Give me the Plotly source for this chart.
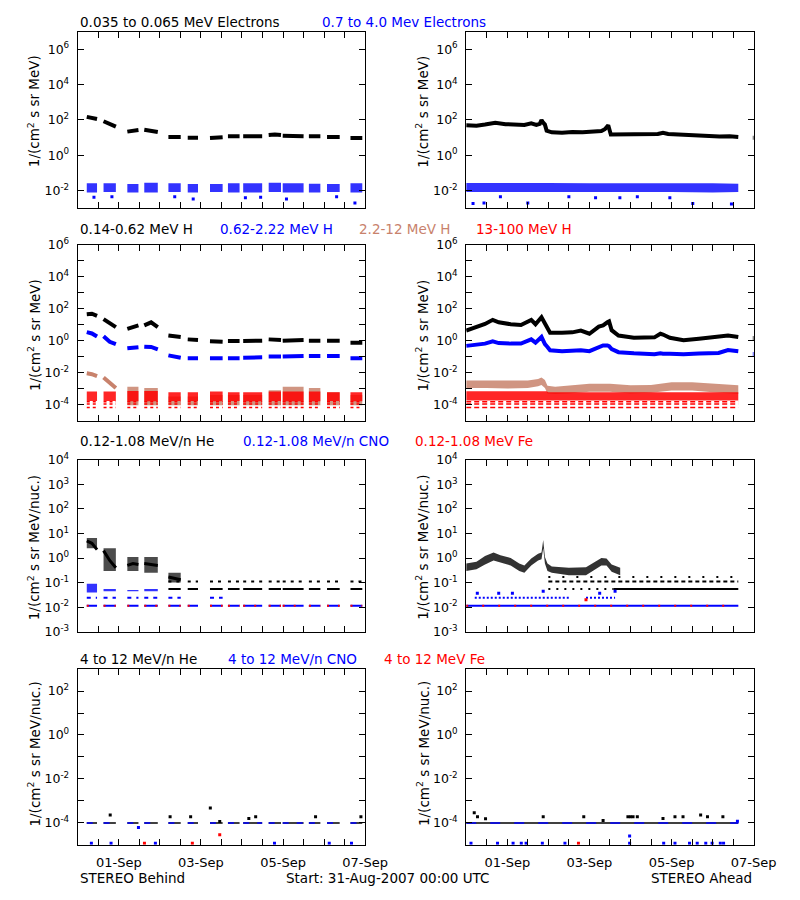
import plotly.graph_objects as go
from datetime import datetime, timedelta

T0 = datetime(2007, 8, 31)

BLACK = "#000000"
BLUE = "#0000ff"
BROWN = "rgb(200,130,108)"
RED = "#ff0000"

# ---------------- time axis ----------------
X_TICK_HOURS = [0, 12, 24, 36, 48, 60, 72, 84, 96, 108, 120, 132, 144, 156, 168]
X_TICK_TEXT = ["", "", "01-Sep", "", "", "", "03-Sep", "", "", "", "05-Sep", "", "", "", "07-Sep"]

# ---------------- STEREO Behind: data blocks (hours since 31-Aug 00:00) ----------------
BLOCK_START = [5.3, 15.1, 29.0, 38.9, 53.0, 64.3, 77.3, 87.8, 96.7, 111.6, 119.8, 135.1, 145.7, 159.4]
BLOCK_MID = [8.3, 18.7, 32.3, 42.9, 56.6, 67.3, 81.0, 91.2, 102.3, 115.2, 125.9, 138.5, 149.4, 162.9]
BLOCK_END = [11.3, 22.3, 35.5, 46.8, 60.2, 70.3, 84.7, 94.6, 107.8, 118.8, 132.0, 141.8, 153.1, 166.3]

# Row 1, Behind: electrons
B_E_LOW = [[150, 140, 115], [85, 60, 42], [22, 25, 27], [28, 25, 21], [11, 11, 11], [10, 10, 10],
           [9.5, 10, 10.5], [12, 12, 12], [12, 12.5, 12], [14, 15, 14], [13, 13, 12], [12, 12, 12],
           [11, 11, 11], [9.5, 9.5, 9.5]]
B_E_HIGH_HI = [0.026, 0.026, 0.024, 0.028, 0.026, 0.024, 0.024, 0.026, 0.026, 0.028, 0.026, 0.025, 0.024, 0.026]
B_E_HIGH_LO = [0.008, 0.0085, 0.008, 0.008, 0.0085, 0.008, 0.0085, 0.008, 0.008, 0.0085, 0.008, 0.008, 0.0085, 0.008]
B_E_HIGH_OUT_T = [9.5, 56.7, 67.5, 106.9, 122.0, 151.3, 162.0, 20.0, 98.0]
B_E_HIGH_OUT_V = [0.0043, 0.0045, 0.0034, 0.0043, 0.0034, 0.0045, 0.002, 0.0045, 0.004]

# Row 1, Ahead: electrons
A_E_T = [0, 6, 11, 17, 23, 29, 34, 38, 41, 43, 44, 45, 46, 47, 50, 56, 62, 68, 74, 79,
         81, 83, 84.5, 88, 96, 104, 112, 115, 118, 124, 130, 136, 142, 148, 154, 159, None, 167.5, 168]
A_E_LOW = [50, 48, 55, 70, 58, 55, 52, 65, 52, 60, 100, 70, 55, 25, 20, 19, 21, 20, 22, 24,
           30, 50, 15, 15, 17, 16, 16, 19, 16, 15, 14, 13, 11.5, 11.5, 12, 11, None, 10, 10]
A_E_BAND_T = [0, 24, 48, 72, 96, 120, 144, 159]
A_E_HIGH_HI = [0.027, 0.028, 0.027, 0.026, 0.027, 0.026, 0.026, 0.025]
A_E_HIGH_LO = [0.0085, 0.0085, 0.0085, 0.008, 0.0085, 0.0085, 0.008, 0.0085]
A_E_HIGH_OUT_T = [4.0, 10.4, 36.0, 75.6, 89.8, 119.0, 132.4, 155.0, 60.0, 100.0, 20.0]
A_E_HIGH_OUT_V = [0.0019, 0.002, 0.002, 0.004, 0.004, 0.004, 0.0019, 0.0018, 0.0045, 0.0045, 0.0045]

# Row 2, Behind: protons
B_H1 = [[45, 48, 35], [22, 13, 7], [5.5, 7, 9], [9, 14, 7], [2.1, 1.9, 1.7], [1.2, 1.2, 1.1],
        [0.9, 0.9, 0.85], [0.95, 0.95, 0.95], [0.95, 0.95, 1.0], [1.2, 1.15, 1.1], [1.0, 1.05, 1.1],
        [1.0, 1.0, 1.0], [1.0, 1.0, 1.0], [0.75, 0.72, 0.75]]
B_H2 = [[3.4, 2.8, 1.8], [1.9, 0.85, 0.6], [0.33, 0.35, 0.38], [0.42, 0.4, 0.28], [0.12, 0.1, 0.085],
        [0.08, 0.08, 0.08], [0.08, 0.08, 0.08], [0.08, 0.08, 0.08], [0.085, 0.085, 0.09], [0.1, 0.1, 0.1],
        [0.1, 0.1, 0.11], [0.11, 0.11, 0.11], [0.11, 0.11, 0.11], [0.08, 0.08, 0.08]]
B_H3_LINE = [[0.009, 0.008, 0.006], [0.005, 0.0025, 0.0011], None, None, None, None, None, None,
             None, None, None, None, None, None]
B_H3_HI = [None, None, 1.3e-3, 1.1e-3, 3.2e-4, 3.2e-4, 4e-4, 4e-4, 4e-4, 8e-4, 1.3e-3, 1.1e-3, 6e-4, 4e-4]
B_H3_LO = [None, None, 9e-5, 9e-5, 9e-5, 9e-5, 9e-5, 9e-5, 9e-5, 9e-5, 9e-5, 9e-5, 9e-5, 9e-5]
B_H4_HI = [6.5e-4, 6.5e-4, 7e-4, 7e-4, 6e-4, 6e-4, 6.5e-4, 6e-4, 6e-4, 6.5e-4, 6.5e-4, 6.5e-4, 6e-4, 6e-4]
B_H4_LO = [1.7e-4, 1.7e-4, 1.6e-4, 1.6e-4, 1.7e-4, 1.7e-4, 1.6e-4, 1.7e-4, 1.6e-4, 1.7e-4, 1.6e-4, 1.6e-4, 1.7e-4, 1.6e-4]
H4_LEVELS = [1.5e-4, 1.1e-4, 6.5e-5]

# Row 2, Ahead: protons
A_H_T = [0, 6, 11, 15.5, 19, 26, 32, 38, 40.5, 44, 46, 47.5, 49, 56, 62, 67, 72, 77.5, 80, 82.5,
         83.5, 85, 89, 98, 110, 113.5, 115, 119, 127, 136, 147.5, 153, 159, None, 167.5, 168]
A_H1 = [4.3, 7, 11, 20, 14, 10.6, 9.6, 20, 10.6, 29, 11, 5.5, 3.1, 3.1, 3.3, 4.3, 2.7, 7.6, 9, 14,
        16, 4.5, 2.1, 1.5, 1.6, 2.7, 2.4, 1.5, 1.05, 1.3, 1.7, 2.1, 1.7, None, 1.45, 1.45]
A_H2 = [0.47, 0.55, 0.65, 0.9, 0.7, 0.65, 0.65, 1.2, 0.75, 1.7, 0.6, 0.4, 0.25, 0.22, 0.23, 0.25, 0.22,
        0.41, 0.5, 0.5, 0.45, 0.3, 0.19, 0.16, 0.14, 0.16, 0.15, 0.15, 0.14, 0.155, 0.17, 0.26, 0.22,
        None, 0.145, 0.145]
A_H3_T = [0, 12, 24, 36, 42, 44, 46, 47.5, 52, 60, 72, 84, 96, 108, 120, 132, 144, 152, 159]
A_H3_HI = [3.2e-3, 3.1e-3, 3.0e-3, 3.2e-3, 4.0e-3, 5.0e-3, 3.4e-3, 1.5e-3, 1.3e-3, 1.6e-3, 2.0e-3,
           2.0e-3, 1.6e-3, 1.7e-3, 2.5e-3, 2.5e-3, 2.0e-3, 1.7e-3, 1.6e-3]
A_H3_LO = [1.1e-3, 1.1e-3, 1.0e-3, 1.1e-3, 1.4e-3, 1.7e-3, 1.1e-3, 5.0e-4, 4.6e-4, 5.0e-4, 6.4e-4,
           6.4e-4, 5.0e-4, 5.5e-4, 7.6e-4, 7.6e-4, 6.0e-4, 5.0e-4, 4.6e-4]
A_H4_T = [0, 47, 48, 159]
A_H4_HI = [6.8e-4, 6.8e-4, 5.8e-4, 5.8e-4]
A_H4_LO = [1.8e-4, 1.8e-4, 1.8e-4, 1.8e-4]

# Row 3: 0.12-1.08 MeV/n He, CNO, Fe
HE_SPARSE = 0.11
HE_ONE_COUNT = 0.055
CNO_TWO_COUNT = 0.024
CNO_ONE_COUNT = 0.0115
B_HE_DENSE = [[5.0, 4.0, 2.2], [2.0, 0.8, 0.4], [0.5, 0.6, 0.55], [0.6, 0.55, 0.5], [0.17, 0.15, 0.13],
              None, None, None, None, None, None, None, None, None]
B_HE_HI = [6.5, 2.5, 1.1, 1.1, 0.25, None, None, None, None, None, None, None, None, None]
B_HE_LO = [2.5, 0.3, 0.3, 0.25, 0.1, None, None, None, None, None, None, None, None, None]
B_HE_BG_ON = [0, 0, 0, 0, 1, 1, 1, 1, 1, 1, 1, 1, 1, 1]
B_CNO_TWO_ON = [1, 1, 1, 1, 1, 0, 1, 0, 0, 0, 0, 0, 0, 0]
B_CNO_HI = [0.09, 0.055, 0.05, 0.055, None, None, None, None, None, None, None, None, None, None]
B_CNO_LO = [0.04, 0.045, 0.045, 0.045, None, None, None, None, None, None, None, None, None, None]

A_HE_T = [0, 6, 11, 16, 20, 26, 31, 34, 38, 42, 44, 45, 46, 47.5, 50, 60, 70, 74, 79, 82, 85, 90]
A_HE_HI = [0.6, 0.7, 1.2, 1.7, 1.3, 1.0, 0.6, 0.5, 0.95, 1.5, 1.7, 5.5, 1.1, 0.6, 0.45, 0.4, 0.42,
           0.6, 1.0, 0.95, 0.55, 0.4]
A_HE_LO = [0.3, 0.35, 0.55, 0.8, 0.65, 0.5, 0.3, 0.25, 0.5, 0.8, 0.9, 2.5, 0.6, 0.3, 0.25, 0.2, 0.2,
           0.3, 0.5, 0.5, 0.28, 0.2]
A_HE_SPARSE_SEGS = [(48, 159)]
A_HE_BG_DOT_SEGS = [(48, 86)]
A_HE_BG_SOLID_SEGS = [(86, 159)]
A_CNO_TWO_SEGS = [(5, 60), (70, 87)]
A_CNO_ONE_SEGS = [(0, 159)]
A_CNO_OUT_T = [6.5, 19, 27, 45, 78, 87]
A_CNO_OUT_V = [0.037, 0.037, 0.037, 0.045, 0.037, 0.045]
A_FE_OUT_T = [70]
A_FE_OUT_V = [0.02]

# Row 4: 4-12 MeV/n He, CNO, Fe
LOW_LEVEL = 1e-4
B_R4_HE_T = [19, 54, 66, 77.5, 83, 104, 139, 165.5, 100]
B_R4_HE_V = [2.3e-4, 1.9e-4, 1.9e-4, 4.8e-4, 1.15e-4, 1.9e-4, 1.9e-4, 1.9e-4, 1.6e-4]
B_R4_CNO_T = [8, 19.5, 45.4, 115, 147, 160, 35.5]
B_R4_CNO_V = [1.17e-5, 1.17e-5, 1.17e-5, 1.17e-5, 1.17e-5, 1.17e-5, 6.2e-5]
B_R4_FE_T = [39, 67, 83]
B_R4_FE_V = [1.17e-5, 1.17e-5, 2.9e-5]
A_R4_HE_T = [4.7, 6.6, 11.3, 45, 68.7, 80, 94.5, 96, 97.5, 100, 115, 122, 126.7, 137, 141, 150]
A_R4_HE_V = [2.9e-4, 1.9e-4, 1.55e-4, 1.9e-4, 1.9e-4, 1.3e-4, 1.9e-4, 1.9e-4, 1.9e-4, 1.9e-4,
             1.6e-4, 1.9e-4, 1.9e-4, 2.3e-4, 1.9e-4, 1.9e-4]
A_R4_CNO_T = [2.8, 18.3, 27.4, 32.2, 35, 44.5, 57.7, 95.5, 95.5, 115.4, 122, 130.5, 135, 140, 143.7, 148.5, 150.4, 158.5]
A_R4_CNO_V = [1.17e-5, 1.17e-5, 1.17e-5, 1.17e-5, 1.17e-5, 1.17e-5, 1.17e-5, 1.17e-5, 2.5e-5, 1.17e-5,
              1.17e-5, 1.17e-5, 1.17e-5, 1.17e-5, 1.17e-5, 1.17e-5, 1.17e-5, 1.2e-4]
A_R4_FE_T = [65.6]
A_R4_FE_V = [1.17e-5]
A_R4_SEGS = [(0, 159)]

# ---------------- texts ----------------
ROW_TITLES = [
    [("0.035 to 0.065 MeV Electrons", BLACK, 80), ("0.7 to 4.0 Mev Electrons", BLUE, 329)],
    [("0.14-0.62 MeV H", BLACK, 80), ("0.62-2.22 MeV H", BLUE, 224), ("2.2-12 MeV H", BROWN, 368),
     ("13-100 MeV H", RED, 488)],
    [("0.12-1.08 MeV/n He", BLACK, 80), ("0.12-1.08 MeV/n CNO", BLUE, 248), ("0.12-1.08 MeV Fe", RED, 425)],
    [("4 to 12 MeV/n He", BLACK, 80), ("4 to 12 MeV/n CNO", BLUE, 233), ("4 to 12 MeV Fe", RED, 393)],
]
TITLE_Y = [13, 224, 440, 662]
Y_TITLES = ["1/(cm<sup>2</sup> s sr MeV)", "1/(cm<sup>2</sup> s sr MeV)",
            "1/(cm<sup>2</sup> s sr MeV/nuc.)", "1/(cm<sup>2</sup> s sr MeV/nuc.)"]
Y_TITLE_CY = [104, 332, 548, 758]

# y axes: (log range, tick exponents, labelled exponents)
Y_AXES = [
    ((-3, 7), [-2, 0, 2, 4, 6], [-2, 0, 2, 4, 6]),
    ((-5, 6), [-5, -4, -3, -2, -1, 0, 1, 2, 3, 4, 5, 6], [-4, -2, 0, 2, 4, 6]),
    ((-3, 4), [-3, -2, -1, 0, 1, 2, 3, 4], [-3, -2, -1, 0, 1, 2, 3, 4]),
    ((-5, 3), [-5, -4, -3, -2, -1, 0, 1, 2, 3], [-4, -2, 0, 2]),
]

# ---------------- layout geometry (pixels) ----------------
W, H = 800, 900
COL_X = [(80, 376), (480, 776)]
ROW_Y = [(23, 203), (240, 419), (459, 634), (672, 851)]
FONT = "DejaVu Sans"
TXT = 13.5
TICK_TXT = 12.5


def tt(hours):
    return [None if h is None else T0 + timedelta(hours=h) for h in hours]


fig = go.Figure()


def ax(n):
    return ("x" if n == 1 else f"x{n}"), ("y" if n == 1 else f"y{n}")


def add_line(n, x, y, color, width, dash=None):
    xa, ya = ax(n)
    fig.add_trace(go.Scatter(x=tt(x), y=y, mode="lines", xaxis=xa, yaxis=ya,
                             line=dict(color=color, width=width, dash=dash),
                             connectgaps=False, hoverinfo="skip", showlegend=False))


def add_band(n, x, y, color, opacity=0.8):
    xa, ya = ax(n)
    fig.add_trace(go.Scatter(x=tt(x), y=y, mode="lines", xaxis=xa, yaxis=ya, fill="toself",
                             fillcolor=color, line=dict(width=0, color=color), opacity=opacity,
                             hoverinfo="skip", showlegend=False))


def add_pts(n, t, v, color, size=3):
    xa, ya = ax(n)
    fig.add_trace(go.Scatter(x=tt(t), y=v, mode="markers", xaxis=xa, yaxis=ya,
                             marker=dict(symbol="square", size=size, color=color, line=dict(width=0)),
                             hoverinfo="skip", showlegend=False))


def block_line(vals):
    xs, ys = [], []
    for s, m, e, v in zip(BLOCK_START, BLOCK_MID, BLOCK_END, vals):
        if v is None:
            continue
        xs += [s, m, e, None]
        ys += [v[0], v[1], v[2], None]
    return xs, ys


def block_band(lo, hi):
    xs, ys = [], []
    for s, e, l, h in zip(BLOCK_START, BLOCK_END, lo, hi):
        if l is None or h is None:
            continue
        xs += [s, e, e, s, None]
        ys += [h, h, l, l, None]
    return xs, ys


def block_level(level, flags=None):
    xs, ys = [], []
    for i, (s, e) in enumerate(zip(BLOCK_START, BLOCK_END)):
        if flags is not None and not flags[i]:
            continue
        xs += [s, e, None]
        ys += [level, level, None]
    return xs, ys


def seg_level(level, segs):
    xs, ys = [], []
    for s, e in segs:
        xs += [s, e, None]
        ys += [level, level, None]
    return xs, ys


def series_band(t, lo, hi):
    return list(t) + list(t)[::-1], list(hi) + list(lo)[::-1]


# ---------------- Row 1 ----------------
add_line(1, *block_line(B_E_LOW), BLACK, 4)
add_band(1, *block_band(B_E_HIGH_LO, B_E_HIGH_HI), BLUE, 0.8)
add_pts(1, B_E_HIGH_OUT_T, B_E_HIGH_OUT_V, BLUE)

add_line(2, A_E_T, A_E_LOW, BLACK, 4)
add_band(2, *series_band(A_E_BAND_T, A_E_HIGH_LO, A_E_HIGH_HI), BLUE, 0.8)
add_pts(2, A_E_HIGH_OUT_T, A_E_HIGH_OUT_V, BLUE)

# ---------------- Row 2 ----------------
add_line(3, *block_line(B_H1), BLACK, 4)
add_line(3, *block_line(B_H2), BLUE, 4)
add_line(3, *block_line(B_H3_LINE), BROWN, 4)
add_band(3, *block_band(B_H3_LO, B_H3_HI), BROWN, 0.85)
add_band(3, *block_band(B_H4_LO, B_H4_HI), RED, 0.85)
for lv in H4_LEVELS:
    add_line(3, *block_level(lv), RED, 1.5, "3px,3px")

add_line(4, A_H_T, A_H1, BLACK, 4)
add_line(4, A_H_T, A_H2, BLUE, 4)
add_band(4, *series_band(A_H3_T, A_H3_LO, A_H3_HI), BROWN, 0.85)
add_band(4, *series_band(A_H4_T, A_H4_LO, A_H4_HI), RED, 0.85)
for lv in H4_LEVELS:
    add_line(4, *seg_level(lv, [(0, 159)]), RED, 1.5, "5px,3px")

# ---------------- Row 3 ----------------
add_band(5, *block_band(B_HE_LO, B_HE_HI), BLACK, 0.7)
add_line(5, *block_line(B_HE_DENSE), BLACK, 3)
add_line(5, *block_level(HE_SPARSE, B_HE_BG_ON), BLACK, 2, "3px,5px")
add_line(5, *block_level(HE_ONE_COUNT, B_HE_BG_ON), BLACK, 2)
add_band(5, *block_band(B_CNO_LO, B_CNO_HI), BLUE, 0.8)
add_line(5, *block_level(CNO_TWO_COUNT, B_CNO_TWO_ON), BLUE, 2, "4px,5px")
add_line(5, *block_level(CNO_ONE_COUNT), BLUE, 2)
add_line(5, *block_level(CNO_ONE_COUNT), RED, 2, "2px,9px")

add_band(6, *series_band(A_HE_T, A_HE_LO, A_HE_HI), BLACK, 0.8)
add_line(6, *seg_level(HE_SPARSE, A_HE_SPARSE_SEGS), BLACK, 2, "4px,3px")
add_line(6, *seg_level(0.17, A_HE_SPARSE_SEGS), BLACK, 2, "2px,12px")
add_line(6, *seg_level(HE_ONE_COUNT, A_HE_BG_DOT_SEGS), BLACK, 2, "2px,6px")
add_line(6, *seg_level(HE_ONE_COUNT, A_HE_BG_SOLID_SEGS), BLACK, 2)
add_line(6, *seg_level(CNO_TWO_COUNT, A_CNO_TWO_SEGS), BLUE, 2, "2px,2px")
add_line(6, *seg_level(CNO_ONE_COUNT, A_CNO_ONE_SEGS), BLUE, 2)
add_line(6, *seg_level(CNO_ONE_COUNT, A_CNO_ONE_SEGS), RED, 2, "2px,14px")
add_pts(6, A_CNO_OUT_T, A_CNO_OUT_V, BLUE)
add_pts(6, A_FE_OUT_T, A_FE_OUT_V, RED)

# ---------------- Row 4 ----------------
add_line(7, *block_level(LOW_LEVEL), BLACK, 1.5)
add_line(7, *block_level(LOW_LEVEL), BLUE, 1.5, "6px,8px")
add_pts(7, B_R4_HE_T, B_R4_HE_V, BLACK)
add_pts(7, B_R4_CNO_T, B_R4_CNO_V, BLUE)
add_pts(7, B_R4_FE_T, B_R4_FE_V, RED)

add_line(8, *seg_level(LOW_LEVEL, A_R4_SEGS), BLACK, 1.5)
add_line(8, *seg_level(LOW_LEVEL, A_R4_SEGS), BLUE, 1.5, "10px,14px")
add_pts(8, A_R4_HE_T, A_R4_HE_V, BLACK)
add_pts(8, A_R4_CNO_T, A_R4_CNO_V, BLUE)
add_pts(8, A_R4_FE_T, A_R4_FE_V, RED)

# ---------------- axes ----------------
layout = dict(width=W, height=H, margin=dict(l=0, r=0, t=0, b=0),
              paper_bgcolor="white", plot_bgcolor="white", showlegend=False,
              font=dict(family=FONT, size=TXT, color="black"))
annotations = []
for n in range(1, 9):
    r, c = (n - 1) // 2, (n - 1) % 2
    x0, x1 = COL_X[c]
    y0, y1 = ROW_Y[r]
    (lo, hi), texps, lexps = Y_AXES[r]
    key = "" if n == 1 else str(n)
    layout["xaxis" + key] = dict(
        domain=[x0 / W, x1 / W], anchor="y" + key, type="date",
        range=[T0, T0 + timedelta(days=7)],
        tickmode="array", tickvals=tt(X_TICK_HOURS), ticktext=X_TICK_TEXT,
        ticks="inside", ticklen=6, tickcolor="black", showline=True, linecolor="black", linewidth=1,
        mirror="ticks", showgrid=False, zeroline=False, showticklabels=(r == 3),
        tickfont=dict(family=FONT, size=13, color="black"), ticklabelstandoff=6)
    layout["yaxis" + key] = dict(
        domain=[1 - y1 / H, 1 - y0 / H], anchor="x" + key, type="log", range=[lo, hi],
        tickmode="array", tickvals=[10.0 ** e for e in texps],
        ticktext=[("10<sup>%d</sup>" % e) if e in lexps else "" for e in texps],
        ticks="inside", ticklen=6, tickcolor="black", showline=True, linecolor="black", linewidth=1,
        mirror="ticks", showgrid=False, zeroline=False,
        tickfont=dict(family=FONT, size=TICK_TXT, color="black"), ticklabelstandoff=5)
    annotations.append(dict(xref="paper", yref="paper", x=(x0 - 45) / W, y=1 - Y_TITLE_CY[r] / H,
                            text=Y_TITLES[r], textangle=-90, showarrow=False,
                            xanchor="center", yanchor="middle",
                            font=dict(family=FONT, size=TXT, color="black")))

for r, items in enumerate(ROW_TITLES):
    for text, color, px in items:
        annotations.append(dict(xref="paper", yref="paper", x=px / W, y=1 - TITLE_Y[r] / H, text=text,
                                showarrow=False, xanchor="left", yanchor="middle",
                                font=dict(family=FONT, size=TXT, color=color)))

BOTTOM_Y = 885
annotations.append(dict(xref="paper", yref="paper", x=80 / W, y=1 - BOTTOM_Y / H, text="STEREO Behind",
                        showarrow=False, xanchor="left", yanchor="middle", font=dict(family=FONT, size=TXT)))
annotations.append(dict(xref="paper", yref="paper", x=292 / W, y=1 - BOTTOM_Y / H,
                        text="Start: 31-Aug-2007 00:00 UTC",
                        showarrow=False, xanchor="left", yanchor="middle", font=dict(family=FONT, size=TXT)))
annotations.append(dict(xref="paper", yref="paper", x=776 / W, y=1 - BOTTOM_Y / H, text="STEREO Ahead",
                        showarrow=False, xanchor="right", yanchor="middle", font=dict(family=FONT, size=TXT)))
layout["annotations"] = annotations
fig.update_layout(**layout)
fig.write_html("out.html")
